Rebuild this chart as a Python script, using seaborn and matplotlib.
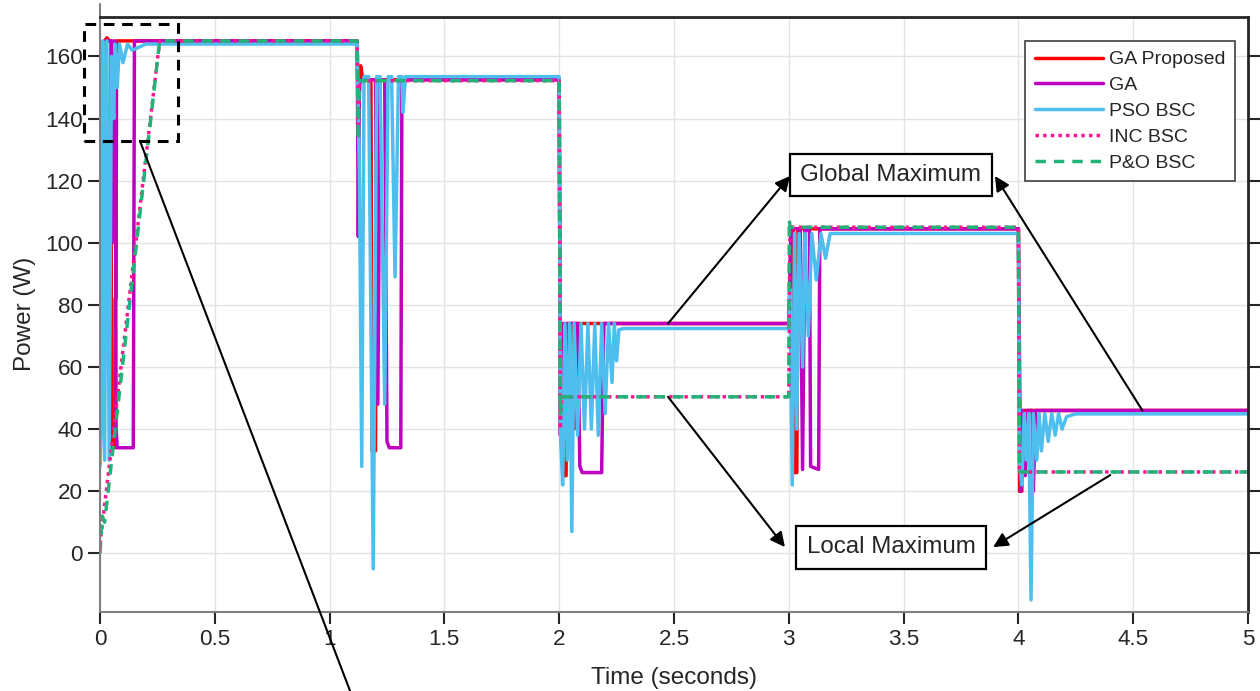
import numpy as np
import pandas as pd
import matplotlib
matplotlib.use("Agg")
import matplotlib.pyplot as plt
import matplotlib.patches as patches
import seaborn as sns

# breakpoints (time s, power W)
ga_prop_t = [0, 0.003, 0.01, 0.02, 0.03, 0.04, 0.048, 0.05, 0.065, 0.066, 0.07, 0.072,
             1.12, 1.125, 1.135, 1.145, 1.18, 1.185, 1.2, 1.205,
             2.0, 2.005, 2.02, 2.03, 2.035, 2.06, 2.065, 2.07,
             3.0, 3.005, 3.01, 3.02, 3.025, 3.035, 3.04,
             4.0, 4.005, 4.015, 4.02, 5.0]
ga_prop_p = [40, 104, 150, 165, 166, 165, 165, 34, 34, 82, 82, 165,
             165, 140, 157, 152.5, 152.5, 33, 33, 152.5,
             152.5, 40, 25, 25, 74, 74, 40, 74,
             74, 85, 104.5, 104.5, 26, 26, 104.5,
             104.5, 20, 20, 46, 46]

ga_t = [0, 0.005, 0.02, 0.05, 0.055, 0.06, 0.065, 0.068, 0.07, 0.075, 0.145, 0.15,
        1.12, 1.125, 1.13, 1.2, 1.21, 1.22, 1.24, 1.25, 1.26, 1.31, 1.315,
        2.0, 2.005, 2.01, 2.03, 2.035, 2.045, 2.08, 2.09, 2.1, 2.185, 2.19, 2.195,
        3.0, 3.01, 3.05, 3.06, 3.07, 3.09, 3.095, 3.13, 3.135,
        4.0, 4.01, 4.02, 4.03, 4.04, 4.06, 4.065, 4.075, 5.0]
ga_p = [40, 100, 165, 165, 100, 165, 165, 120, 40, 34, 34, 165,
        165, 102, 152.5, 152.5, 48, 152.5, 152.5, 36, 34, 34, 152.5,
        152.5, 38, 74, 74, 38, 74, 74, 28, 26, 26, 55, 74,
        74, 104.5, 104.5, 27, 104, 104, 28, 27, 104.5,
        104.5, 20, 46, 25, 46, 46, 20, 46, 46]

pso_t = [0, 0.005, 0.012, 0.02, 0.03, 0.04, 0.05, 0.06, 0.065, 0.075, 0.085, 0.1, 0.12, 0.14, 0.2,
         1.12, 1.13, 1.14, 1.15, 1.17, 1.19, 1.205, 1.22, 1.24, 1.255, 1.27, 1.285, 1.3, 1.315, 1.32, 1.33,
         2.0, 2.005, 2.015, 2.025, 2.035, 2.045, 2.055, 2.065, 2.08, 2.095, 2.11, 2.125, 2.14, 2.155,
         2.17, 2.185, 2.2, 2.215, 2.23, 2.24, 2.25, 2.26, 2.28,
         3.0, 3.005, 3.015, 3.025, 3.035, 3.045, 3.06, 3.07, 3.085, 3.1, 3.12, 3.14, 3.16, 3.18,
         4.0, 4.005, 4.015, 4.025, 4.035, 4.045, 4.055, 4.065, 4.08, 4.09, 4.1, 4.115, 4.13, 4.145,
         4.16, 4.175, 4.19, 4.21, 4.25, 5.0]
pso_p = [28, 40, 165, 30, 165, 30, 160, 140, 164, 150, 164, 158, 164, 162, 164,
         164, 120, 28, 153.5, 153.5, -5, 153.5, 153.5, 48, 153.5, 153.5, 89, 153.5, 153.5, 142, 153.5,
         153.5, 40, 22, 74, 30, 74, 7, 74, 38, 74, 40, 74, 40, 74,
         38, 74, 45, 74, 55, 74, 62, 72, 72.4,
         72.4, 85, 22, 103, 40, 103, 60, 103, 70, 103, 88, 103, 95, 103,
         103, 30, 22, 45, 30, 45, -15, 45, 30, 45, 33, 45, 36, 45,
         38, 45, 40, 44, 44.9, 44.9]

inc_t = [0, 0.26, 1.12, 1.125, 1.13, 2.0, 2.005, 2.01, 3.0, 3.005, 4.0, 4.005, 5.0]
inc_p = [3, 165, 165, 138, 152.2, 152.2, 40, 50.4, 50.4, 105, 105, 26.2, 26.2]

po_t = [0, 0.01, 0.02, 0.26, 1.12, 1.125, 1.13, 2.0, 2.005, 2.01, 3.0, 3.002, 3.006, 4.0, 4.005, 5.0]
po_p = [0, 12, 10, 165, 165, 133, 152.2, 152.2, 45, 50.4, 50.4, 107.5, 105, 105, 26.2, 26.2]

series = [
    ("GA Proposed", ga_prop_t, ga_prop_p, "#FF0000", "-"),
    ("GA", ga_t, ga_p, "#BF00BF", "-"),
    ("PSO BSC", pso_t, pso_p, "#4DBEEE", "-"),
    ("INC BSC", inc_t, inc_p, "#FF1493", (0, (1, 1.2))),
    ("P&O BSC", po_t, po_p, "#22B378", (0, (3, 2.3))),
]

sns.set_style("ticks")
plt.rcParams['font.family'] = ['Liberation Sans', 'DejaVu Sans']

fig = plt.figure(figsize=(12.6, 6.91), dpi=100)
ax = fig.add_axes([100 / 1260, (691 - 611.7) / 691, 1148 / 1260, (611.7 - 16.7) / 691])

for name, t, p, col, ls in series:
    sns.lineplot(x=t, y=p, ax=ax, color=col, lw=2.5, linestyle=ls, label=name,
                 sort=False, estimator=None)

ax.set_xlim(0, 5)
ax.set_ylim(-18.8, 172.8)
ax.set_xticks(np.arange(0, 5.01, 0.5))
ax.set_xticklabels(["0", "0.5", "1", "1.5", "2", "2.5", "3", "3.5", "4", "4.5", "5"])
ax.set_yticks(np.arange(0, 161, 20))
ax.grid(True, color="#E3E3E3", lw=1)
ax.set_axisbelow(True)
ax.tick_params(direction="out", length=8.5, width=1.5, color="#262626",
               labelsize=16.2, labelcolor="#262626", pad=4, right=True)
for s in ["left", "bottom"]:
    ax.spines[s].set_color("#808080")
    ax.spines[s].set_linewidth(1.5)
for s in ["top", "right"]:
    ax.spines[s].set_color("#262626")
    ax.spines[s].set_linewidth(2)
ax.plot([0, 0], [172.8, 177], color="#808080", lw=1.5, clip_on=False)

ax.set_xlabel("Time (seconds)", fontsize=17.5, color="#262626", labelpad=12)
ax.set_ylabel("Power (W)", fontsize=17.5, color="#262626", labelpad=6)

leg = ax.legend(loc="upper right", bbox_to_anchor=(0.9887, 0.959), borderaxespad=0,
                fontsize=14, handlelength=3.5, labelspacing=0.42, borderpad=0.5,
                handletextpad=0.3, fancybox=False, framealpha=1, edgecolor="#404040")
leg.get_frame().set_linewidth(1.2)

# zoom box and its leader line
ax.add_patch(patches.Rectangle((-0.07, 132.8), 0.41, 37.5, fill=False, ec="black",
                               lw=2.2, ls=(0, (3.5, 2.5)), clip_on=False, zorder=6))
ax.plot([0.174, 1.089], [132.8, -44.3], color="black", lw=1.5, clip_on=False, zorder=6)

box = dict(boxstyle="square,pad=0.42", fc="white", ec="black", lw=1.6)
ax.text(3.445, 121.8, "Global Maximum", fontsize=17.4, ha="center", va="center", bbox=box, zorder=7)
ax.text(3.445, 1.9, "Local Maximum", fontsize=17.4, ha="center", va="center", bbox=box, zorder=7)

arrows = [((2.474, 74), (3.005, 121.5)), ((4.54, 46), (3.898, 121.5)),
          ((2.474, 50.4), (2.983, 2.0)), ((4.40, 25.2), (3.89, 2.0))]
for start, end in arrows:
    ax.annotate("", xy=end, xytext=start, zorder=8,
                arrowprops=dict(arrowstyle="-|>", color="black", lw=1.5,
                                mutation_scale=22, shrinkA=0, shrinkB=0))

fig.savefig("out.png", dpi=100)
